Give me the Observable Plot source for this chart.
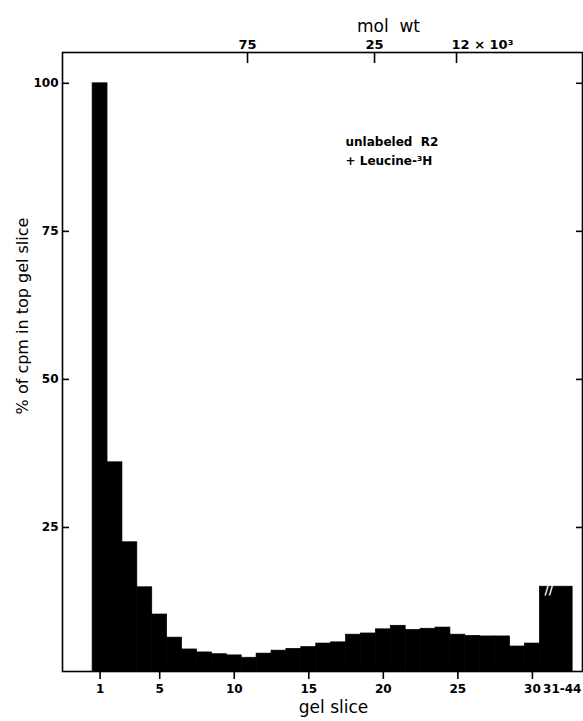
<!DOCTYPE html>
<html>
<head>
<meta charset="utf-8">
<script src="https://cdn.jsdelivr.net/npm/d3@7"></script>
<script src="https://cdn.jsdelivr.net/npm/@observablehq/plot@0.6"></script>
<style>
  html, body { margin: 0; padding: 0; background: #fff; }
</style>
</head>
<body>
<div id="chart"></div>
<script>
// ---- data ----
const slices = [1, 2, 3, 4, 5, 6, 7, 8, 9, 10, 11, 12, 13, 14, 15, 16, 17, 18, 19, 20, 21, 22, 23, 24, 25, 26, 27, 28, 29, 30];
const percentOfTop = [100, 36, 22.5, 14.9, 10.3, 6.4, 4.4, 3.9, 3.6, 3.4, 3.0, 3.7, 4.2, 4.5, 4.8, 5.4, 5.6, 6.9, 7.1, 7.8, 8.4, 7.7, 7.9, 8.1, 6.9, 6.7, 6.6, 6.6, 4.9, 5.4];
const pooledLabel = "31-44";
const pooledValue = 15.0;
const bottomTicks = [1, 5, 10, 15, 20, 25, 30];
const yTicks = [25, 50, 75, 100];
const molWtLabels = ["75", "25", "12 × 10³"];
const molWtAtSlice = [10.89, 19.41, 24.91];
const annotation = "unlabeled  R2\n+ Leucine-³H";

// ---- layout constants ----
const pooledSpan = [30.5, 32.7];   // compressed (broken) x-extent of pooled slices 31-44
const pooledLabelAt = 32.0;
const FONT = "DejaVu Sans";

const bars = slices.map((s, i) => ({x1: s - 0.5, x2: s + 0.5, v: percentOfTop[i]}));
bars.push({x1: pooledSpan[0], x2: pooledSpan[1], v: pooledValue});

const chart = Plot.plot({
  width: 583,
  height: 721,
  marginLeft: 62,
  marginRight: 1,
  marginTop: 52,
  marginBottom: 50,
  style: {fontFamily: FONT, color: "black", background: "white", overflow: "visible"},
  x: {domain: [-1.52, 33.36]},
  y: {domain: [0.68, 105.2]},
  marks: [
    Plot.rectY(bars, {x1: "x1", x2: "x2", y: "v", fill: "black", stroke: "black", strokeWidth: 0.7, clip: true}),
    // break marks on the pooled bar
    Plot.text([pooledValue], {x: 31.1, y: d => d, text: () => "//", fill: "white", fontSize: 12, fontWeight: "bold", dy: 3}),
    Plot.frame({stroke: "black", strokeWidth: 1.6}),
    // left axis (ticks inward)
    Plot.axisY(yTicks, {anchor: "left", tickSize: -7, tickPadding: 11, strokeWidth: 1.6, fontSize: 12, fontWeight: "bold", label: null}),
    // right axis ticks only
    Plot.axisY(yTicks, {anchor: "right", tickSize: -7, strokeWidth: 1.6, tickFormat: () => "", label: null}),
    // bottom axis
    Plot.axisX(bottomTicks, {anchor: "bottom", tickSize: 8, tickPadding: 5, strokeWidth: 1.6, fontSize: 12, fontWeight: "bold", label: null}),
    Plot.text([pooledLabel], {x: pooledLabelAt, frameAnchor: "bottom", lineAnchor: "top", dy: 13, fontSize: 12, fontWeight: "bold"}),
    Plot.text(["gel slice"], {frameAnchor: "bottom", textAnchor: "middle", dx: 11, dy: 41, fontSize: 17}),
    // top molecular-weight axis
    Plot.axisX(molWtAtSlice, {anchor: "top", tickSize: -10, strokeWidth: 1.6, tickFormat: () => "", label: null}),
    Plot.text(molWtLabels.slice(0, 2), {x: (d, i) => molWtAtSlice[i], frameAnchor: "top", lineAnchor: "bottom", dy: -4, fontSize: 13, fontWeight: "bold"}),
    Plot.text([molWtLabels[2]], {x: molWtAtSlice[2], frameAnchor: "top", lineAnchor: "bottom", textAnchor: "start", dx: -5, dy: -4, fontSize: 13, fontWeight: "bold"}),
    Plot.text(["mol  wt"], {frameAnchor: "top-left", textAnchor: "middle", dx: 326, dy: -33, fontSize: 17}),
    // y-axis title
    Plot.text(["% of cpm in top gel slice"], {frameAnchor: "left", textAnchor: "middle", rotate: -90, dx: -40, dy: -46, fontSize: 16}),
    // annotation
    Plot.text([annotation], {frameAnchor: "top-left", textAnchor: "start", lineAnchor: "top", dx: 283, dy: 80, fontSize: 12, fontWeight: "bold", lineHeight: 1.6})
  ]
});
document.getElementById("chart").appendChild(chart);
</script>
</body>
</html>
